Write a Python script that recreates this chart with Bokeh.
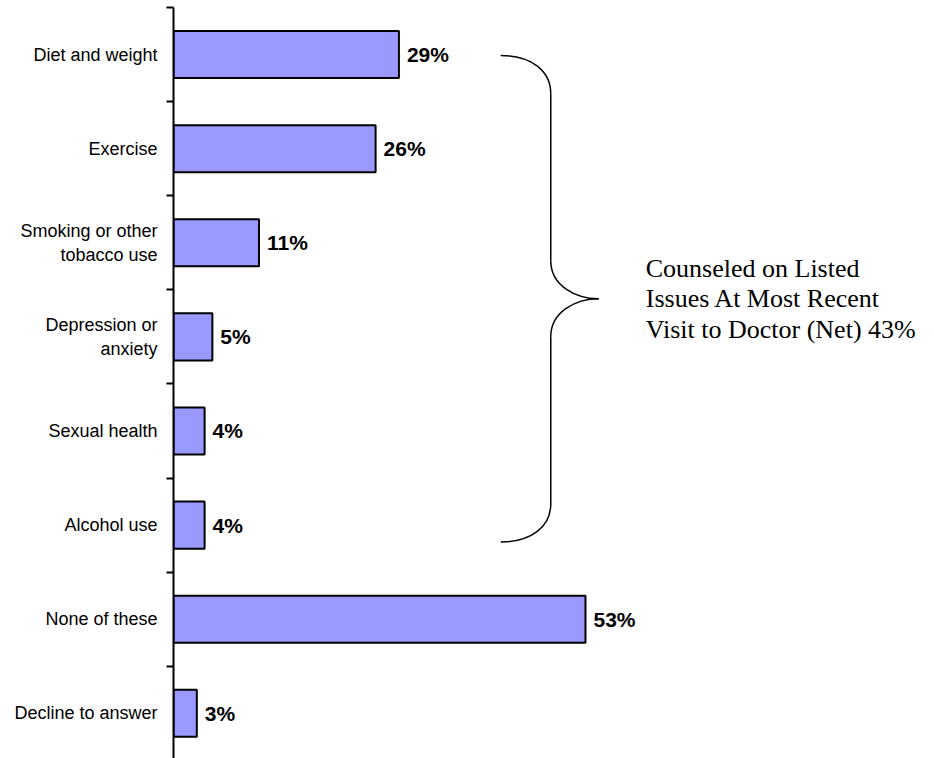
from bokeh.plotting import figure
from bokeh.models import Range1d, LinearAxis, FixedTicker, ColumnDataSource
from bokeh.core.properties import value
from bokeh.embed import file_html
from bokeh.resources import INLINE

categories = ["Diet and weight", "Exercise", "Smoking or other\ntobacco use",
              "Depression or\nanxiety", "Sexual health", "Alcohol use",
              "None of these", "Decline to answer"]
values = [29, 26, 11, 5, 4, 4, 53, 3]
net_label = "Counseled on Listed\nIssues At Most Recent\nVisit to Doctor (Net) 43%"
brace_first, brace_last = 0, 5  # categories covered by the brace

n = len(categories)
centers = [i + 0.5 for i in range(n)]
bounds = list(range(n + 1))

W, H = 934, 758
LEFT = 173
TOP = 7
XMAX = 97.9
YMAX = 7.98

p = figure(width=W, height=H, output_backend="svg", toolbar_location=None,
           x_range=Range1d(0, XMAX), y_range=Range1d(YMAX, 0),
           x_axis_location=None, y_axis_location=None,
           min_border_left=LEFT, min_border_right=0, min_border_top=TOP,
           min_border_bottom=0)
p.outline_line_color = None
p.xgrid.visible = False
p.ygrid.visible = False
p.background_fill_color = "white"

src = ColumnDataSource(dict(y=centers, v=values,
                            lab=[f"{v}%" for v in values]))
p.hbar(y="y", right="v", left=0, height=0.5, source=src,
       fill_color="#9999FF", line_color="black", line_width=2)
p.text(x="v", y="y", text="lab", source=src, x_offset=8,
       text_baseline="middle", text_align="left",
       text_font=value("Liberation Sans"), text_font_style="bold",
       text_font_size="21px", text_color="black")

ax = LinearAxis(ticker=FixedTicker(ticks=centers, minor_ticks=bounds))
ax.major_label_overrides = {c: lab for c, lab in zip(centers, categories)}
ax.major_tick_out = 0
ax.major_tick_in = 0
ax.minor_tick_out = 7
ax.minor_tick_in = 0
ax.minor_tick_line_width = 2
ax.minor_tick_line_color = "black"
ax.axis_line_width = 2
ax.axis_line_color = "black"
ax.major_label_standoff = 9
ax.major_label_text_font = "Liberation Sans"
ax.major_label_text_font_size = "18px"
ax.major_label_text_color = "black"
ax.major_label_text_align = "center"
p.add_layout(ax, "left")

# brace (annotation geometry, derived from the covered categories)
pxx = (W - LEFT) / XMAX          # pixels per x unit
pxy = (H - TOP) / YMAX           # pixels per y unit
y0 = centers[brace_first] + 0.01
y1 = centers[brace_last] + 0.18
ym = (y0 + y1) / 2
xl = 42.1
xv = xl + 50 / pxx
xt = xl + 98 / pxx
cy = 38 / pxy
cy2 = 38 / pxy
p.bezier(x0=[xl, xv, xt, xv], y0=[y0, ym - cy2, ym, y1 - cy],
         x1=[xv, xt, xv, xl], y1=[y0 + cy, ym, ym + cy2, y1],
         cx0=[xl + 30 / pxx, xv, xv + 25 / pxx, xv],
         cy0=[y0, ym - cy2 + 25 / pxy, ym, y1 - cy + 23 / pxy],
         cx1=[xv, xv + 25 / pxx, xv, xl + 30 / pxx],
         cy1=[y0 + cy - 23 / pxy, ym, ym + cy2 - 25 / pxy, y1],
         line_color="black", line_width=1.5)
p.segment(x0=[xv, xv], y0=[y0 + cy, ym + cy2], x1=[xv, xv], y1=[ym - cy2, y1 - cy],
          line_color="black", line_width=1.5)

p.text(x=[xt + 47 / pxx], y=[ym], text=[net_label], text_baseline="middle",
       text_align="left", text_font=value("Liberation Serif"),
       text_font_size="26px", text_line_height=1.05, text_color="black")

open("out.html", "w").write(file_html(p, INLINE))
